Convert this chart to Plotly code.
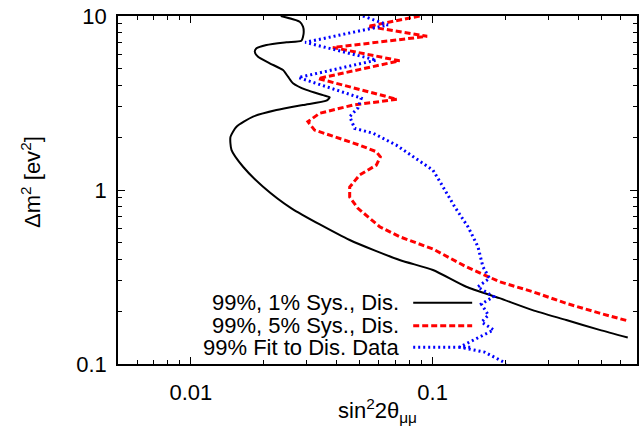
import plotly.graph_objects as go

# ---- data ----
black_x = [0.02355, 0.02821, 0.02911, 0.02931, 0.02911, 0.02866, 0.02486, 0.02055, 0.01869, 0.01839,
           0.01897, 0.02120, 0.02406, 0.02523, 0.02646, 0.03006, 0.03522, 0.03753, 0.03637, 0.02911,
           0.02260, 0.01809, 0.01545, 0.01459, 0.01473, 0.01645, 0.01990, 0.02607, 0.04540, 0.0730,
           0.1003, 0.1378, 0.189, 0.259, 0.357, 0.490, 0.641]
black_y = [10.0, 9.27, 8.68, 8.12, 7.60, 7.21, 7.06, 6.81, 6.52, 6.23,
           5.83, 5.35, 4.89, 4.48, 4.11, 3.76, 3.51, 3.41, 3.26, 3.08,
           2.88, 2.64, 2.31, 2.02, 1.70, 1.36, 1.045, 0.785, 0.516, 0.396,
           0.347, 0.278, 0.239, 0.204, 0.179, 0.157, 0.142]

red_x = [0.0884, 0.0540, 0.0949, 0.0387, 0.0730, 0.0336, 0.0713, 0.0469, 0.0341, 0.0305,
         0.0325, 0.0375, 0.0499, 0.0585, 0.0608, 0.0585, 0.0499, 0.0454, 0.0454, 0.0491,
         0.0604, 0.0730, 0.1003, 0.1378, 0.189, 0.260, 0.357, 0.490, 0.641]
red_y = [10.0, 8.71, 7.64, 6.59, 5.53, 4.37, 3.32, 3.08, 2.76, 2.47,
         2.21, 2.07, 1.81, 1.66, 1.55, 1.39, 1.22, 1.04, 0.911, 0.785,
         0.615, 0.539, 0.458, 0.362, 0.297, 0.260, 0.223, 0.196, 0.177]

blue_x = [0.0515, 0.0653, 0.02972, 0.0585, 0.02786, 0.0507, 0.0491, 0.0454, 0.0476, 0.0567,
          0.0708, 0.0856, 0.1003, 0.1103, 0.1233, 0.140, 0.154, 0.1614, 0.172, 0.1535,
          0.1787, 0.159, 0.170, 0.1594, 0.1787, 0.1564, 0.1293, 0.164, 0.1965, 0.200]
blue_y = [10.0, 8.88, 7.06, 5.58, 4.43, 3.37, 2.96, 2.64, 2.26, 2.12,
          1.81, 1.52, 1.30, 1.045, 0.802, 0.615, 0.472, 0.362, 0.311, 0.277,
          0.244, 0.221, 0.191, 0.174, 0.157, 0.143, 0.125, 0.117, 0.1027, 0.099]

labels = ["99%, 1% Sys., Dis.", "99%, 5% Sys., Dis.", "99% Fit to Dis. Data"]
colors = ["black", "red", "blue"]
dashes = ["solid", "6px,3px", "2px,3px"]
widths = [2, 3, 3]

x_major = [0.01, 0.1]
x_major_text = ["0.01", "0.1"]
x_minor = [0.005, 0.006, 0.007, 0.008, 0.009, 0.02, 0.03, 0.04, 0.05, 0.06, 0.07, 0.08, 0.09,
           0.2, 0.3, 0.4, 0.5, 0.6, 0.7]
y_major = [0.1, 1, 10]
y_major_text = ["0.1", "1", "10"]
y_minor = [0.2, 0.3, 0.4, 0.5, 0.6, 0.7, 0.8, 0.9, 2, 3, 4, 5, 6, 7, 8, 9]

FONT = "Liberation Sans, Arial, sans-serif"
FS = 22

fig = go.Figure()
series = [(black_x, black_y), (red_x, red_y), (blue_x, blue_y)]
for i, (xs, ys) in enumerate(series):
    fig.add_trace(go.Scatter(
        x=xs, y=ys, mode="lines", name=labels[i], showlegend=False,
        line=dict(color=colors[i], width=widths[i], dash=dashes[i],
                  shape="spline" if i == 0 else "linear", smoothing=0.6 if i == 0 else None),
    ))

# manual gnuplot-style key (text right-aligned, sample line to its right)
key_y = [0.176, 0.110, 0.048]
for i in range(3):
    fig.add_annotation(x=0.545, y=key_y[i], xref="paper", yref="paper", text=labels[i],
                       showarrow=False, xanchor="right", yanchor="middle",
                       font=dict(family=FONT, size=FS, color="black"))
    fig.add_shape(type="line", xref="paper", yref="paper", x0=0.5688, x1=0.6824,
                  y0=key_y[i], y1=key_y[i],
                  line=dict(color=colors[i], width=widths[i], dash=dashes[i]))

# axis titles
fig.add_annotation(x=0.5, y=-0.135, xref="paper", yref="paper",
                   text="sin<sup>2</sup>2θ<sub>μμ</sub>", showarrow=False,
                   xanchor="center", yanchor="middle", font=dict(family=FONT, size=FS, color="black"))
fig.add_annotation(x=-0.1665, y=0.522, xref="paper", yref="paper",
                   text="Δm<sup>2</sup> [ev<sup>2</sup>]", showarrow=False, textangle=-90,
                   xanchor="center", yanchor="middle", font=dict(family=FONT, size=FS, color="black"))

axis_common = dict(showgrid=False, zeroline=False, showline=True, linecolor="black", linewidth=1.5,
                   mirror="allticks", ticks="inside", ticklen=7, tickwidth=1, tickcolor="black",
                   automargin=False,
                   tickfont=dict(family=FONT, size=FS, color="black"))
fig.update_xaxes(type="log", range=[-2.30103, -0.15490], tickmode="array",
                 tickvals=x_major, ticktext=x_major_text, ticklabelstandoff=8,
                 minor=dict(tickmode="array", tickvals=x_minor, ticks="inside", ticklen=4,
                            tickcolor="black", tickwidth=1),
                 **axis_common)
fig.update_yaxes(type="log", range=[-1, 1], tickmode="array",
                 tickvals=y_major, ticktext=y_major_text, ticklabelstandoff=5,
                 minor=dict(tickmode="array", tickvals=y_minor, ticks="inside", ticklen=4,
                            tickcolor="black", tickwidth=1),
                 **axis_common)

fig.update_layout(width=644, height=436, margin=dict(l=117.5, r=7, t=15.5, b=72, autoexpand=False),
                  paper_bgcolor="white", plot_bgcolor="white",
                  font=dict(family=FONT, size=FS, color="black"))
# remove the default 8px page margin so the figure sits at the window's corner
fig.write_html("out.html", config={"displayModeBar": False},
               post_script="document.body.style.margin='0';")
